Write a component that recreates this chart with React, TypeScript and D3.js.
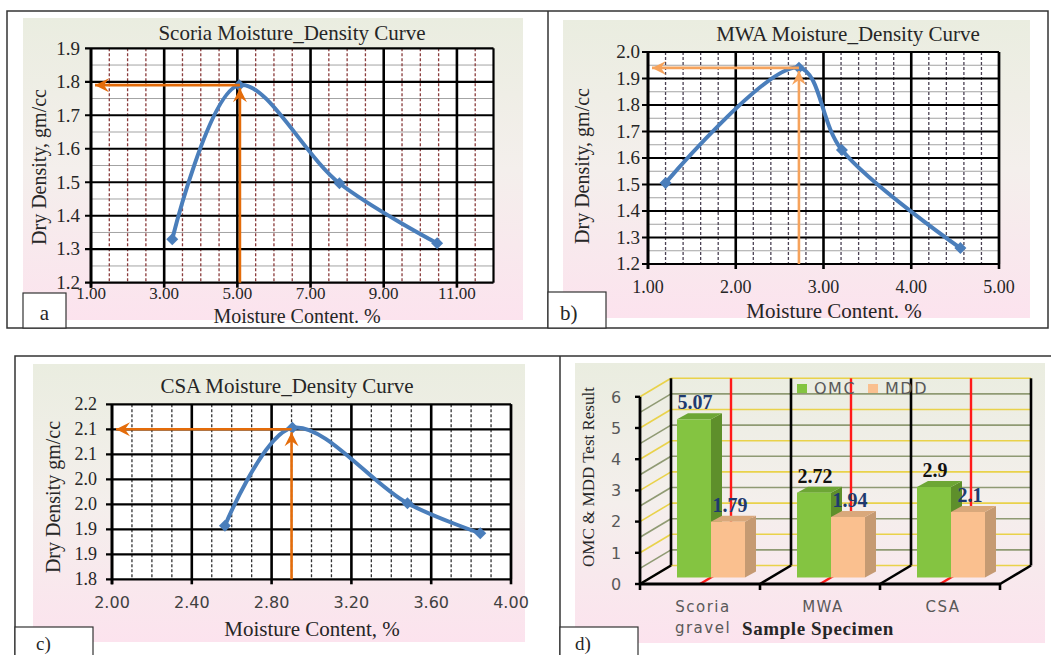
import React from 'react';
import * as d3 from 'd3';

// ---------- data ----------
const scoriaMoisture = [3.22, 5.05, 7.79, 10.46];
const scoriaDensity = [1.33, 1.79, 1.497, 1.318];
const scoriaXTicks = [1, 3, 5, 7, 9, 11];
const scoriaYTicks = [1.2, 1.3, 1.4, 1.5, 1.6, 1.7, 1.8, 1.9];

const mwaMoisture = [1.2, 2.72, 3.21, 4.56];
const mwaDensity = [1.506, 1.941, 1.63, 1.26];
const mwaXTicks = [1, 2, 3, 4, 5];
const mwaYTicks = [1.2, 1.3, 1.4, 1.5, 1.6, 1.7, 1.8, 1.9, 2.0];

const csaMoisture = [2.566, 2.904, 3.481, 3.846];
const csaDensity = [1.907, 2.103, 1.952, 1.892];
const csaXTicks = [2.0, 2.4, 2.8, 3.2, 3.6, 4.0];
const csaYTicks = [1.8, 1.85, 1.9, 1.95, 2.0, 2.05, 2.1, 2.15];
const csaYTickLabels = ['1.8', '1.9', '1.9', '2.0', '2.0', '2.1', '2.1', '2.2'];

const specimens = ['Scoria gravel', 'MWA', 'CSA'];
const omcValues = [5.07, 2.72, 2.9];
const mddValues = [1.79, 1.94, 2.1];
const omcLabels = ['5.07', '2.72', '2.9'];
const mddLabels = ['1.79', '1.94', '2.1'];
const resultTicks = [0, 1, 2, 3, 4, 5, 6];

// label colours (style, not data)
const omcLabelFill = ['#1f3a6e', '#111111', '#111111'];

const SERIF = "'Liberation Serif', 'Times New Roman', serif";
const SANS = "'DejaVu Sans', Verdana, sans-serif";
const INK = '#262626';

type LinePanelProps = {
  left: number; right: number; top: number; bottom: number;
  xDomain: [number, number]; yDomain: [number, number];
  xTicks: number[]; yTicks: number[]; yTickLabels?: string[];
  xMinorStep: number; yMinorStep?: number; minorColor: string;
  moisture: number[]; density: number[]; omc: number; mdd: number;
  arrowId: string; arrowColor: string;
  title: string; titleX: number; titleY: number;
  xLabel: string; xLabelX: number; xLabelY: number; xLabelSize: number;
  yLabel: string; yLabelX: number; yLabelY: number;
  xTickY: number; xTickSans?: boolean; xTickSize: number; yTickRight: number; yTickSize: number;
};

function LinePanel(p: LinePanelProps) {
  const x = d3.scaleLinear().domain(p.xDomain).range([p.left, p.right]);
  const y = d3.scaleLinear().domain(p.yDomain).range([p.bottom, p.top]);
  const eps = 1e-6;
  const nearX = (v: number) => p.xTicks.some(t => Math.abs(t - v) < eps) || Math.abs(v - p.xDomain[1]) < eps;
  const nearY = (v: number) => p.yTicks.some(t => Math.abs(t - v) < eps);
  const vMinor = d3.range(p.xDomain[0], p.xDomain[1] + eps, p.xMinorStep).filter(v => !nearX(v));
  const hMinor = p.yMinorStep ? d3.range(p.yDomain[0], p.yDomain[1] + eps, p.yMinorStep).filter(v => !nearY(v)) : [];
  const pts = p.moisture.map((m, i) => [x(m), y(p.density[i])] as [number, number]);
  const path = d3.line().curve(d3.curveCatmullRom.alpha(0.5))(pts) || '';
  const marker = d3.symbol().type(d3.symbolSquare).size(72)() || '';
  const ax = x(p.omc);
  const ay = y(p.mdd);
  const fmtY = d3.format('.1f');
  const fmtX = d3.format('.2f');

  return (
    <g>
      <rect x={p.left} y={p.top} width={p.right - p.left} height={p.bottom - p.top} fill="#ffffff" />
      {hMinor.map(v => (
        <line key={'hm' + v} x1={p.left} x2={p.right} y1={y(v)} y2={y(v)} stroke="#a3a3a3" strokeWidth={1} />
      ))}
      {vMinor.map(v => (
        <line key={'vm' + v} x1={x(v)} x2={x(v)} y1={p.top} y2={p.bottom} stroke={p.minorColor}
          strokeWidth={1.3} strokeDasharray="3 2" />
      ))}
      {p.yTicks.map(v => (
        <line key={'hy' + v} x1={p.left - 6} x2={p.right} y1={y(v)} y2={y(v)} stroke="#000" strokeWidth={2.2} />
      ))}
      {p.xTicks.map(v => (
        <line key={'vx' + v} x1={x(v)} x2={x(v)} y1={p.top} y2={p.bottom + 5} stroke="#000" strokeWidth={2.6} />
      ))}
      <line x1={p.right} x2={p.right} y1={p.top} y2={p.bottom} stroke="#000" strokeWidth={2.2} />
      <line x1={p.left} x2={p.left} y1={p.top} y2={p.bottom + 5} stroke="#000" strokeWidth={2.6} />

      <path d={path} fill="none" stroke="#4a7ebb" strokeWidth={4} strokeLinecap="round" />
      {pts.map((pt, i) => (
        <path key={'mk' + i} d={marker} transform={`translate(${pt[0]},${pt[1]}) rotate(45)`} fill="#4a7ebb" />
      ))}

      {/* reading arrows */}
      <line x1={ax} x2={p.left + 4} y1={ay} y2={ay} stroke={p.arrowColor} strokeWidth={2.6}
        markerEnd={`url(#${p.arrowId})`} />
      <line x1={ax} x2={ax} y1={p.bottom} y2={ay + 3} stroke={p.arrowColor} strokeWidth={2.6}
        markerEnd={`url(#${p.arrowId})`} />

      {p.yTicks.map((v, i) => (
        <text key={'yl' + v} x={p.yTickRight} y={y(v)} dy="0.33em" textAnchor="end" fontFamily={SERIF}
          fontSize={p.yTickSize} fill={INK}>
          {p.yTickLabels ? p.yTickLabels[i] : fmtY(v)}
        </text>
      ))}
      {p.xTicks.map(v => (
        <text key={'xl' + v} x={x(v)} y={p.xTickY} textAnchor="middle"
          fontFamily={p.xTickSans ? SANS : SERIF} fontSize={p.xTickSize} fill={p.xTickSans ? '#404040' : INK}>
          {fmtX(v)}
        </text>
      ))}
      <text x={p.titleX} y={p.titleY} textAnchor="middle" fontFamily={SERIF} fontSize={21} fill={INK}>{p.title}</text>
      <text x={p.xLabelX} y={p.xLabelY} textAnchor="middle" fontFamily={SERIF} fontSize={p.xLabelSize} fill={INK}>{p.xLabel}</text>
      <text transform={`translate(${p.yLabelX},${p.yLabelY}) rotate(-90)`} textAnchor="middle"
        dominantBaseline="central" fontFamily={SERIF} fontSize={20} fill={INK}>{p.yLabel}</text>
    </g>
  );
}

function BarPanel() {
  const frontY = d3.scaleLinear().domain([0, 6]).range([584, 396.8]);
  const band = d3.scaleBand<string>().domain(specimens).range([640, 1000]);
  const bw = band.bandwidth();
  const wdx = 31, wdy = -18.5;       // wall depth
  const fdx = 11, fdy = -6.5;        // bar front plane offset
  const ddx = 11, ddy = -6;          // bar depth
  const barW = 34;
  const grid = d3.range(0, 6.001, 0.5);
  const x0 = 640, x1 = 1000;

  const bar = (xl: number, v: number, front: string, side: string, top: string, key: string) => {
    const yb = frontY(0) + fdy;
    const yt = frontY(v) + fdy;
    const xr = xl + barW;
    return (
      <g key={key}>
        <polygon points={`${xr},${yt} ${xr + ddx},${yt + ddy} ${xr + ddx},${yb + ddy} ${xr},${yb}`} fill={side} />
        <polygon points={`${xl},${yt} ${xr},${yt} ${xr + ddx},${yt + ddy} ${xl + ddx},${yt + ddy}`} fill={top} />
        <rect x={xl} y={yt} width={barW} height={yb - yt} fill={front} />
      </g>
    );
  };

  return (
    <g>
      {/* side wall and back wall grid */}
      {grid.map(v => {
        const c = Number.isInteger(v) ? '#e9d24a' : '#8f9a73';
        return (
          <g key={'g' + v}>
            <line x1={x0} y1={frontY(v)} x2={x0 + wdx} y2={frontY(v) + wdy} stroke={c} strokeWidth={1.6} />
            <line x1={x0 + wdx} y1={frontY(v) + wdy} x2={x1 + wdx} y2={frontY(v) + wdy} stroke={c} strokeWidth={1.6} />
          </g>
        );
      })}
      {/* category centre lines */}
      {specimens.map(s => {
        const cx = (band(s) || 0) + bw / 2;
        return (
          <g key={'r' + s}>
            <line x1={cx + wdx} x2={cx + wdx} y1={frontY(6) + wdy} y2={frontY(0) + wdy} stroke="#ff1a1a" strokeWidth={2.4} />
            <line x1={cx} y1={frontY(0)} x2={cx + wdx} y2={frontY(0) + wdy} stroke="#ff1a1a" strokeWidth={2.4} />
          </g>
        );
      })}
      {/* category boundaries */}
      {[...specimens.map(s => band(s) || 0), x1].map((bx, i) => (
        <g key={'b' + i}>
          <line x1={bx + wdx} x2={bx + wdx} y1={frontY(6) + wdy} y2={frontY(0) + wdy} stroke="#000" strokeWidth={2.6} />
          <line x1={bx} y1={frontY(0)} x2={bx + wdx} y2={frontY(0) + wdy} stroke="#000" strokeWidth={2.6} />
          <line x1={bx} x2={bx} y1={frontY(0)} y2={frontY(0) + 6} stroke="#000" strokeWidth={2.6} />
        </g>
      ))}
      <line x1={x0} x2={x1} y1={frontY(0)} y2={frontY(0)} stroke="#000" strokeWidth={2.8} />
      <line x1={x0} x2={x0} y1={frontY(6)} y2={frontY(0)} stroke="#000" strokeWidth={2.8} />
      {resultTicks.map(v => (
        <g key={'t' + v}>
          <line x1={x0 - 5} x2={x0} y1={frontY(v)} y2={frontY(v)} stroke="#000" strokeWidth={2.4} />
          <text x={616} y={frontY(v)} dy="0.36em" textAnchor="middle" fontFamily={SANS} fontSize={16} fill="#595959">{v}</text>
        </g>
      ))}

      {/* bars */}
      {specimens.map((s, i) => {
        const gx = (band(s) || 0) + bw / 2 + fdx;
        return (
          <g key={'bar' + s}>
            {bar(gx - barW, omcValues[i], '#84c441', '#5e8f2b', '#6da635', 'o' + i)}
            {bar(gx, mddValues[i], '#fac08f', '#c59a72', '#d9a87b', 'm' + i)}
          </g>
        );
      })}
      {specimens.map((s, i) => {
        const gx = (band(s) || 0) + bw / 2 + fdx;
        return (
          <g key={'lab' + s} fontFamily={SERIF} fontWeight="bold" fontSize={20} textAnchor="middle">
            <text x={gx - barW / 2 + 1} y={frontY(omcValues[i]) + fdy - 10} fill={omcLabelFill[i]}>{omcLabels[i]}</text>
            <text x={gx + barW / 2 + 2} y={frontY(mddValues[i]) + fdy - 10} fill="#1f3a6e">{mddLabels[i]}</text>
          </g>
        );
      })}

      {/* category labels */}
      {specimens.map(s => {
        const cx = (band(s) || 0) + bw / 2 + 3;
        return s.split(' ').map((w, j) => (
          <text key={s + j} x={cx} y={612 + j * 21} textAnchor="middle" fontFamily={SANS} fontSize={15}
            letterSpacing={1.5} fill="#595959">{w}</text>
        ));
      })}
      <text x={818} y={635} textAnchor="middle" fontFamily={SERIF} fontWeight="bold" fontSize={19}
        letterSpacing={0.6} fill={INK}>Sample Specimen</text>
      <text transform="translate(588,477) rotate(-90)" textAnchor="middle" dominantBaseline="central"
        fontFamily={SERIF} fontSize={17} fill={INK}>OMC &amp; MDD Test Result</text>

      {/* legend */}
      <rect x={797} y={384} width={10} height={9} fill="#84c441" />
      <text x={814} y={394} fontFamily={SANS} fontSize={16} letterSpacing={1.5} fill="#595959">OMC</text>
      <rect x={868} y={384} width={10} height={9} fill="#fac08f" />
      <text x={885} y={394} fontFamily={SANS} fontSize={16} letterSpacing={1.5} fill="#595959">MDD</text>
    </g>
  );
}

export default function App() {
  const arrow = (id: string, color: string) => (
    <marker id={id} viewBox="-16 -8 17 16" refX={0} refY={0} markerWidth={17} markerHeight={16}
      markerUnits="userSpaceOnUse" orient="auto">
      <path d="M0,0 L-14,-7 L-9,0 L-14,7 Z" fill={color} />
    </marker>
  );
  return (
    <svg width={1051} height={655} style={{ position: 'absolute', left: 0, top: 0, background: '#fff' }}>
      <defs>
        <linearGradient id="panelBg" x1="0" y1="0" x2="0" y2="1">
          <stop offset="0" stopColor="#eaede0" />
          <stop offset="0.5" stopColor="#f4efec" />
          <stop offset="1" stopColor="#fce3ee" />
        </linearGradient>
        {arrow('arrA', '#e46c0a')}
        {arrow('arrB', '#f6a35c')}
        {arrow('arrC', '#e46c0a')}
      </defs>

      {/* frames */}
      <rect x={7} y={11} width={1041} height={317} fill="none" stroke="#333" strokeWidth={1.5} />
      <line x1={548} x2={548} y1={11} y2={328} stroke="#333" strokeWidth={1.5} />
      <path d="M15,655 L15,356 L1051,356" fill="none" stroke="#333" strokeWidth={1.5} />
      <line x1={560} x2={560} y1={356} y2={655} stroke="#333" strokeWidth={1.5} />

      {/* panel backgrounds */}
      <rect x={23} y={18} width={500} height={302} fill="url(#panelBg)" />
      <rect x={563} y={20} width={467} height={298} fill="url(#panelBg)" />
      <rect x={33} y={364} width={492} height={278} fill="url(#panelBg)" />
      <rect x={575} y={363} width={470} height={280} fill="url(#panelBg)" />

      <LinePanel left={91} right={493.5} top={48.3} bottom={282.7} xDomain={[1, 12]} yDomain={[1.2, 1.9]}
        xTicks={scoriaXTicks} yTicks={scoriaYTicks} xMinorStep={0.5} yMinorStep={0.05} minorColor="#8b3d3d"
        moisture={scoriaMoisture} density={scoriaDensity} omc={omcValues[0]} mdd={mddValues[0]}
        arrowId="arrA" arrowColor="#e46c0a"
        title="Scoria Moisture_Density Curve" titleX={292} titleY={40}
        xLabel="Moisture Content. %" xLabelX={297} xLabelY={323} xLabelSize={20}
        yLabel="Dry Density, gm/cc" yLabelX={39} yLabelY={167}
        xTickY={299} xTickSize={17} yTickRight={80} yTickSize={19} />

      <LinePanel left={648} right={999} top={52} bottom={264} xDomain={[1, 5]} yDomain={[1.2, 2.0]}
        xTicks={mwaXTicks} yTicks={mwaYTicks} xMinorStep={0.2} yMinorStep={0.05} minorColor="#4b4254"
        moisture={mwaMoisture} density={mwaDensity} omc={omcValues[1]} mdd={mddValues[1]}
        arrowId="arrB" arrowColor="#f6a35c"
        title="MWA Moisture_Density Curve" titleX={848} titleY={41}
        xLabel="Moisture Content. %" xLabelX={834} xLabelY={318} xLabelSize={21}
        yLabel="Dry Density, gm/cc" yLabelX={582} yLabelY={166}
        xTickY={293} xTickSize={18} yTickRight={640} yTickSize={19} />

      <LinePanel left={112} right={511} top={404.3} bottom={579.3} xDomain={[2, 4]} yDomain={[1.8, 2.15]}
        xTicks={csaXTicks} yTicks={csaYTicks} yTickLabels={csaYTickLabels} xMinorStep={0.1} minorColor="#333333"
        moisture={csaMoisture} density={csaDensity} omc={omcValues[2]} mdd={mddValues[2]}
        arrowId="arrC" arrowColor="#e46c0a"
        title="CSA Moisture_Density Curve" titleX={287} titleY={393}
        xLabel="Moisture Content, %" xLabelX={312} xLabelY={636} xLabelSize={21}
        yLabel="Dry Density gm/cc" yLabelX={53} yLabelY={497}
        xTickY={608} xTickSans xTickSize={16} yTickRight={97} yTickSize={18} />

      <BarPanel />

      {/* panel letters */}
      <g fontFamily={SERIF} fill={INK}>
        <rect x={23} y={293} width={43} height={35} fill="#fff" stroke="#333" strokeWidth={1.2} />
        <text x={44.5} y={320} textAnchor="middle" fontSize={21}>a</text>
        <rect x={548} y={292} width={58} height={36} fill="#fff" stroke="#333" strokeWidth={1.2} />
        <text x={560} y={320} fontSize={21}>b)</text>
        <rect x={15} y={627} width={78} height={30} fill="#fff" stroke="#333" strokeWidth={1.2} />
        <text x={36} y={650} fontSize={19}>c)</text>
        <rect x={560} y={627} width={78} height={30} fill="#fff" stroke="#333" strokeWidth={1.2} />
        <text x={575} y={650} fontSize={19}>d)</text>
      </g>
    </svg>
  );
}
